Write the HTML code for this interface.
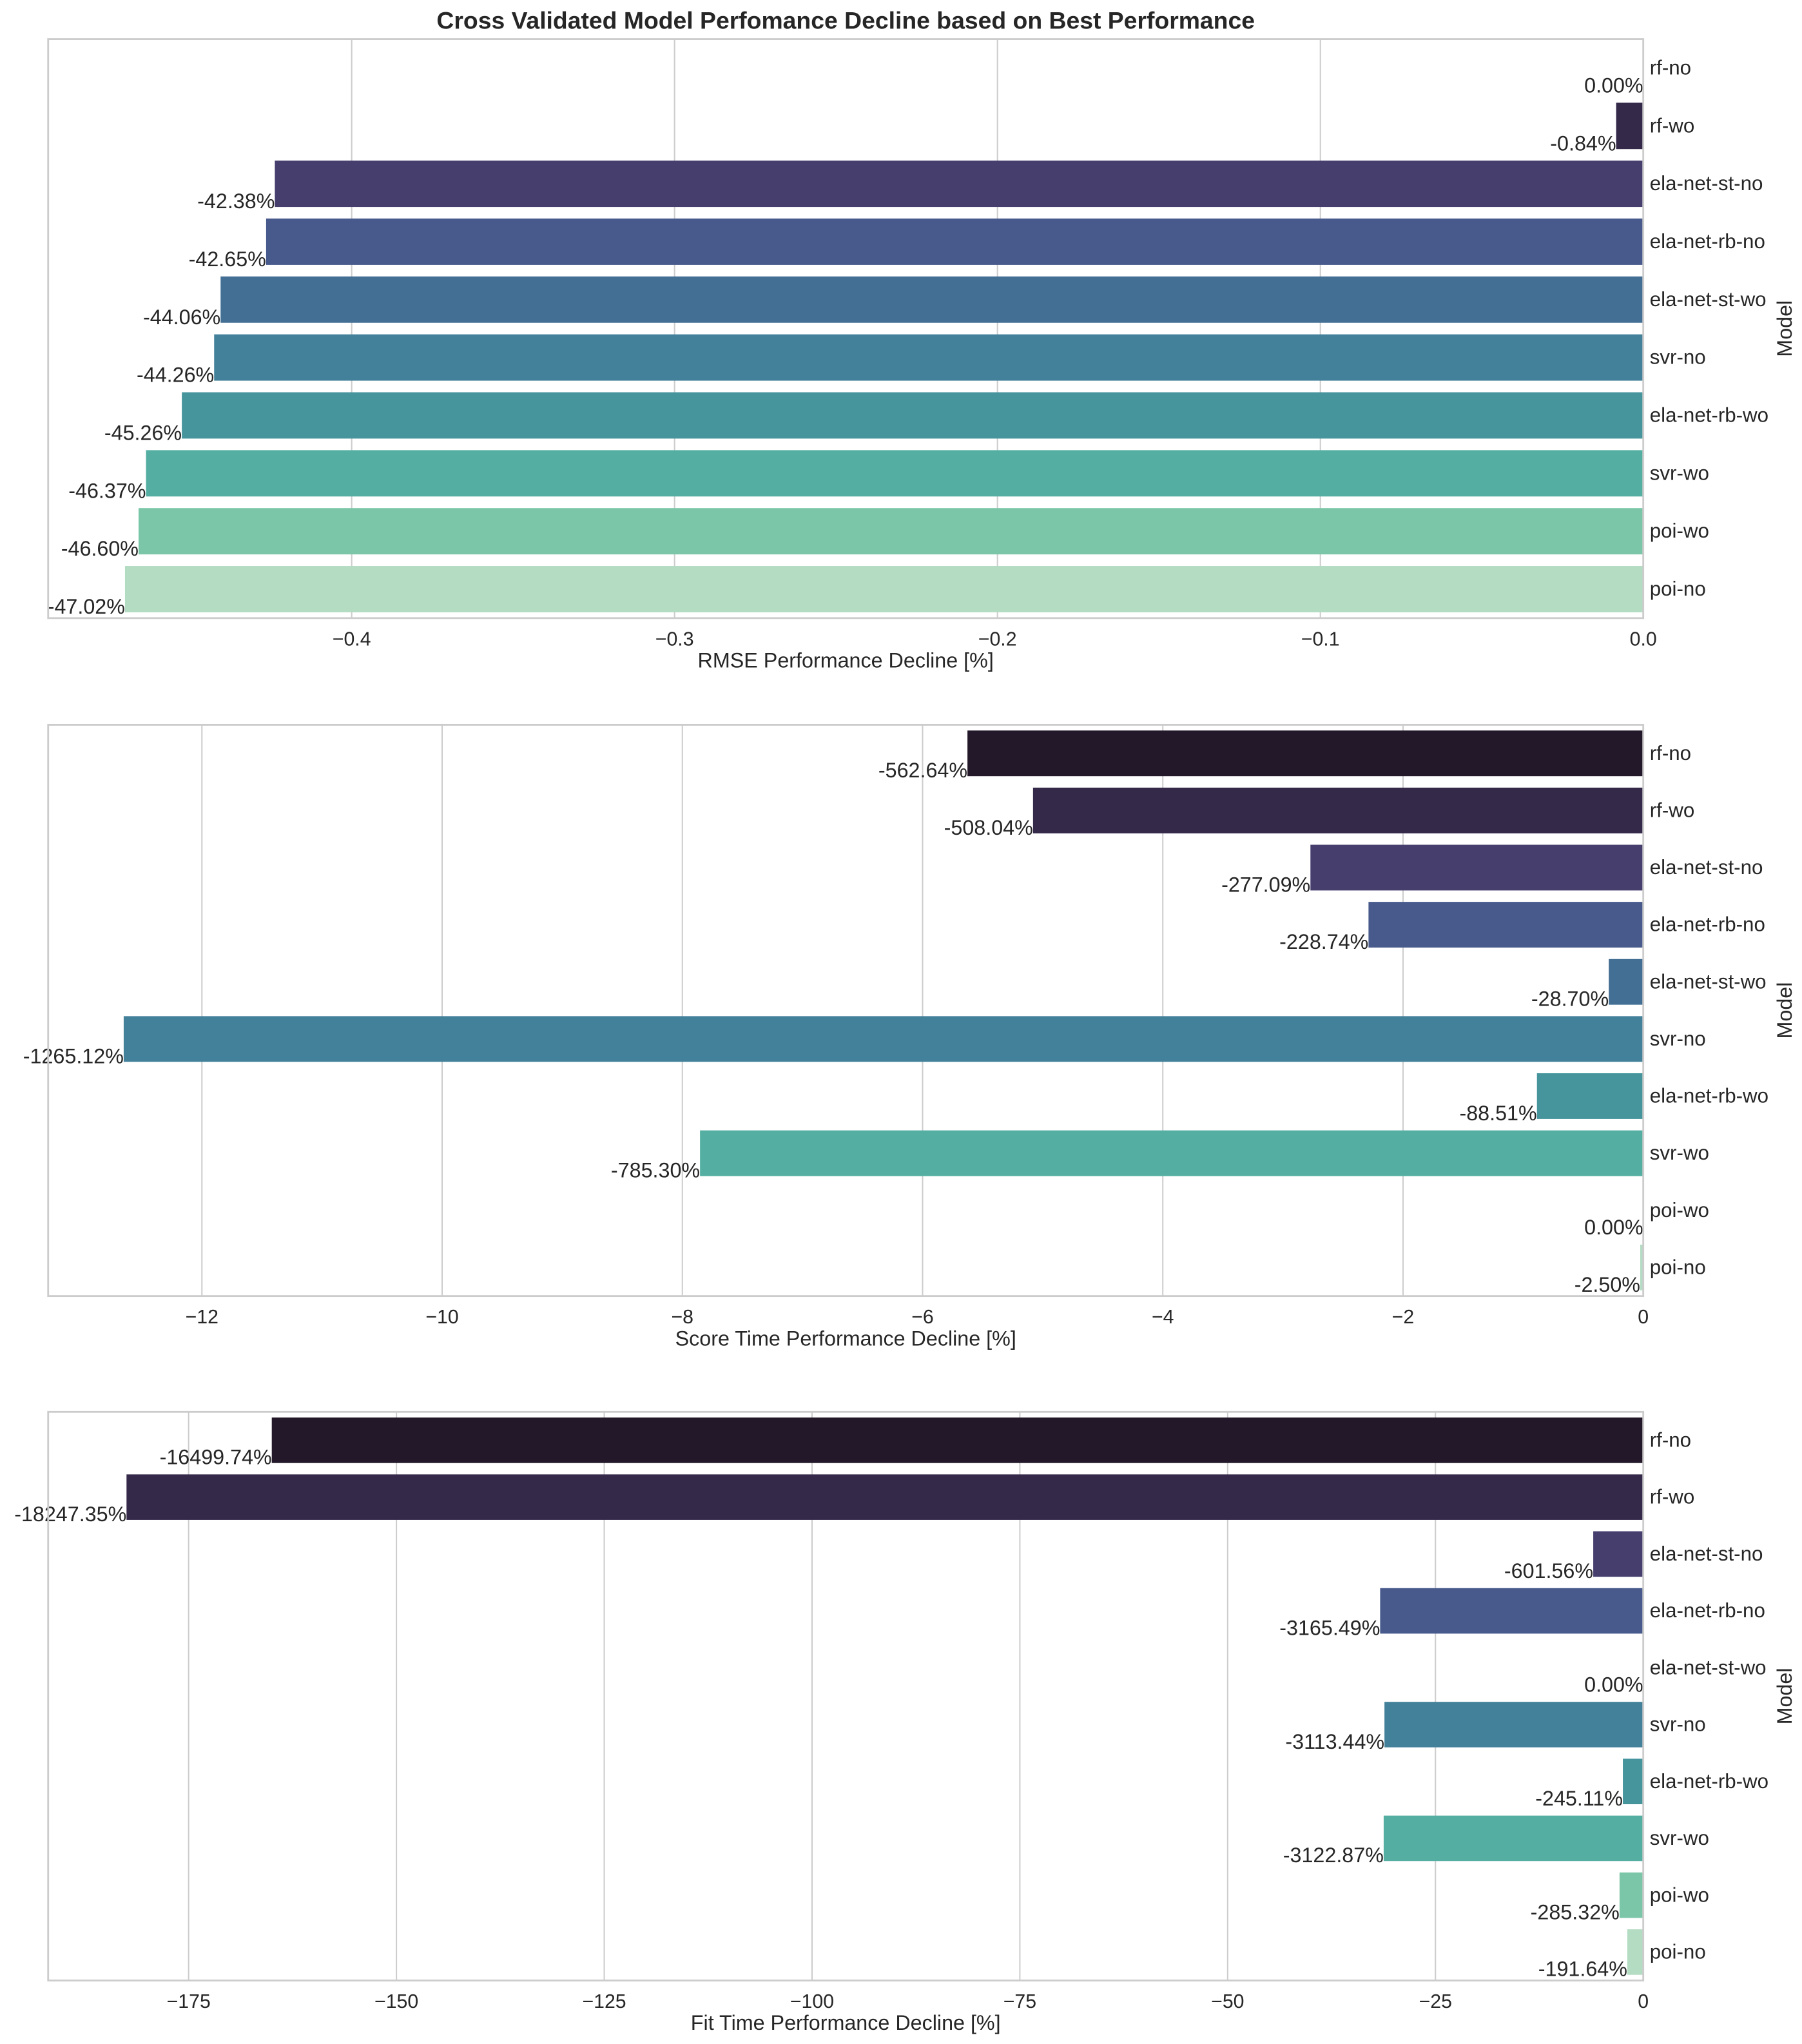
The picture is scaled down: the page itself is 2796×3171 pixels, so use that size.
<!DOCTYPE html>
<html><head><meta charset="utf-8"><style>
html,body{margin:0;padding:0;background:#fff}
svg{display:block}
text{font-family:"Liberation Sans",Arial,sans-serif;fill:#262626}
</style></head><body>
<svg id="chart" xmlns="http://www.w3.org/2000/svg" width="2796" height="3171" viewBox="0 0 1385 1570.8"></svg>
<script>
const categories = ['rf-no','rf-wo','ela-net-st-no','ela-net-rb-no','ela-net-st-wo','svr-no','ela-net-rb-wo','svr-wo','poi-wo','poi-no'];
const rmseValues = [0, -0.0084, -0.4238, -0.4265, -0.4406, -0.4426, -0.4526, -0.4637, -0.4660, -0.4702];
const rmseLabels = ['0.00%','-0.84%','-42.38%','-42.65%','-44.06%','-44.26%','-45.26%','-46.37%','-46.60%','-47.02%'];
const scoreValues = [-5.6264, -5.0804, -2.7709, -2.2874, -0.2870, -12.6512, -0.8851, -7.8530, 0, -0.0250];
const scoreLabels = ['-562.64%','-508.04%','-277.09%','-228.74%','-28.70%','-1265.12%','-88.51%','-785.30%','0.00%','-2.50%'];
const fitValues = [-164.9974, -182.4735, -6.0156, -31.6549, 0, -31.1344, -2.4511, -31.2287, -2.8532, -1.9164];
const fitLabels = ['-16499.74%','-18247.35%','-601.56%','-3165.49%','0.00%','-3113.44%','-245.11%','-3122.87%','-285.32%','-191.64%'];
const rmseTicks = [-0.4,-0.3,-0.2,-0.1,0.0];
const rmseTickLabels = ['\u22120.4','\u22120.3','\u22120.2','\u22120.1','0.0'];
const scoreTicks = [-12,-10,-8,-6,-4,-2,0];
const scoreTickLabels = ['\u221212','\u221210','\u22128','\u22126','\u22124','\u22122','0'];
const fitTicks = [-175,-150,-125,-100,-75,-50,-25,0];
const fitTickLabels = ['\u2212175','\u2212150','\u2212125','\u2212100','\u221275','\u221250','\u221225','0'];
const colors = ['#23182a','#35294a','#463f6e','#475a8b','#436f94','#43819a','#46959c','#54afa2','#7bc6a8','#b3dcc2'];

const svg = document.getElementById('chart');
const NS = 'http://www.w3.org/2000/svg';
function mk(tag, attrs, parent){const e=document.createElementNS(NS,tag);for(const k in attrs)e.setAttribute(k,attrs[k]);(parent||svg).appendChild(e);return e;}

const L=37, R=1263;
function panel(key, top, bottom, xmin, values, labels, ticks, tickLabels, xlabel){
  const g = mk('g',{});
  
  
  const x = v => L + (v - xmin) / (0 - xmin) * (R - L);
  const band = (bottom - top) / categories.length;
  ticks.forEach((t,i)=>{
    const gl = mk('line',{x1:x(t),x2:x(t),y1:top,y2:bottom,stroke:'#cccccc','stroke-width':1},g);
    
    
    const tl = mk('text',{x:x(t),y:bottom+21,'font-size':15,'text-anchor':'middle'},g);
    tl.textContent = tickLabels[i];
    
    
  });
  categories.forEach((c,i)=>{
    const yc = top + band*(i+0.5);
    const h = band*0.8;
    const v = values[i];
    const b = mk('rect',{x:x(v),y:yc-h/2,width:Math.max(0,x(0)-x(v)),height:h,fill:colors[i]},g);
    
    
    const vl = mk('text',{x:x(v),y:yc+h/2+1,'font-size':16,'text-anchor':'end'},g);
    vl.textContent = labels[i];
    
    
    const cl = mk('text',{x:R+5,y:yc+5,'font-size':15.5},g);
    cl.textContent = c;
    
    
  });
  const fr = mk('rect',{x:L,y:top,width:R-L,height:bottom-top,fill:'none',stroke:'#cccccc','stroke-width':1.4},g);
  
  
  const xl = mk('text',{x:(L+R)/2,y:bottom+38,'font-size':16,'text-anchor':'middle'},g);
  xl.textContent = xlabel;
  
  
  const yy=(top+bottom)/2;
  const yl = mk('text',{x:1377,y:yy,'font-size':16,'text-anchor':'middle',transform:'rotate(-90 1377 '+yy+')'},g);
  yl.textContent = 'Model';
  
  
}
const title = mk('text',{x:650,y:22,'font-size':18.5,'font-weight':'bold','text-anchor':'middle'});
title.textContent = 'Cross Validated Model Perfomance Decline based on Best Performance';


panel('rmse', 30, 475, -0.494, rmseValues, rmseLabels, rmseTicks, rmseTickLabels, 'RMSE Performance Decline [%]');
panel('score-time', 557, 996, -13.28, scoreValues, scoreLabels, scoreTicks, scoreTickLabels, 'Score Time Performance Decline [%]');
panel('fit-time', 1085, 1522, -191.9, fitValues, fitLabels, fitTicks, fitTickLabels, 'Fit Time Performance Decline [%]');
</script>
</body></html>
